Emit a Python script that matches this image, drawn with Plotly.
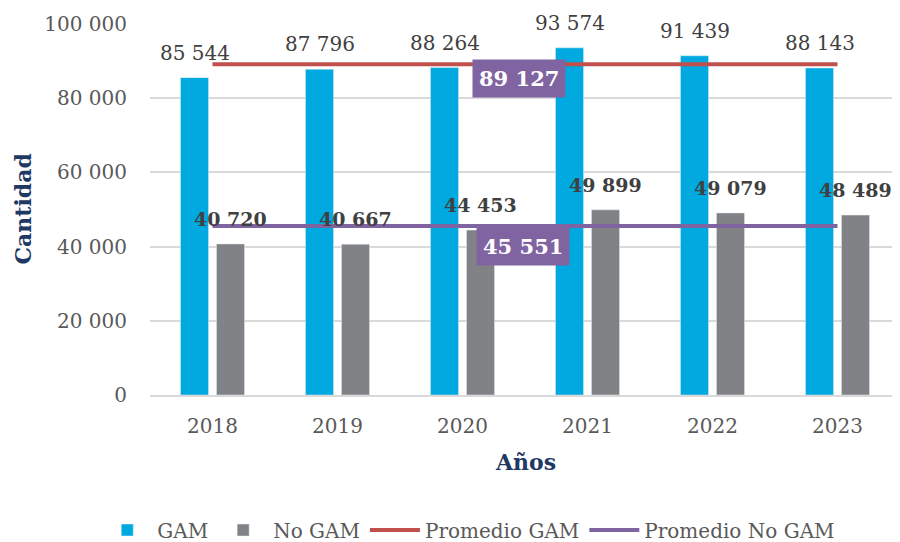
import plotly.graph_objects as go

# datos
anios = ["2018", "2019", "2020", "2021", "2022", "2023"]
gam = [85544, 87796, 88264, 93574, 91439, 88143]
no_gam = [40720, 40667, 44453, 49899, 49079, 48489]
promedio_gam = 89127
promedio_no_gam = 45551
y_ticks = [0, 20000, 40000, 60000, 80000, 100000]

AZUL = "#00A9E0"
GRIS = "#808285"
ROJO = "#C0504D"
MORADO = "#8064A2"
TEXTO = "#404040"
TITULO = "#1F3864"
FUENTE = "DejaVu Serif"


def fmt(v):
    return f"{v:,}".replace(",", " ")


fig = go.Figure()

fig.add_trace(go.Bar(x=anios, y=gam, name="GAM", marker_color=AZUL))
fig.add_trace(go.Bar(x=anios, y=no_gam, name="No GAM", marker_color=GRIS))
fig.add_trace(go.Scatter(x=anios, y=[promedio_gam] * len(anios), name="Promedio GAM",
                         mode="lines", line=dict(color=ROJO, width=4)))
fig.add_trace(go.Scatter(x=anios, y=[promedio_no_gam] * len(anios), name="Promedio No GAM",
                         mode="lines", line=dict(color=MORADO, width=4)))

# etiquetas de las barras (en eje de categorias la x es el indice)
for i, v in enumerate(gam):
    fig.add_annotation(x=i, y=v, text=fmt(v), showarrow=False, xshift=-18, yshift=25,
                       font=dict(family=FUENTE, size=20, color=TEXTO))
for i, v in enumerate(no_gam):
    fig.add_annotation(x=i, y=v, text="<b>" + fmt(v) + "</b>", showarrow=False, xshift=18,
                       yshift=25, font=dict(family=FUENTE, size=19, color=TEXTO))

# etiquetas de los promedios
fig.add_annotation(x=0.492, xref="paper", y=promedio_gam, text="<b>" + fmt(promedio_gam) + "</b>",
                   showarrow=False, yshift=-14, bgcolor=MORADO, borderpad=6,
                   font=dict(family=FUENTE, size=21, color="white"))
fig.add_annotation(x=0.497, xref="paper", y=promedio_no_gam, text="<b>" + fmt(promedio_no_gam) + "</b>",
                   showarrow=False, yshift=-20, bgcolor=MORADO, borderpad=6,
                   font=dict(family=FUENTE, size=21, color="white"))

# titulos de ejes
fig.add_annotation(x=0, xref="paper", y=0.5, yref="paper", text="<b>Cantidad</b>", textangle=-90,
                   showarrow=False, xanchor="center", yanchor="middle", xshift=-128,
                   font=dict(family=FUENTE, size=22, color=TITULO))
fig.add_annotation(x=0.5, xref="paper", y=0, yref="paper", text="<b>Años</b>",
                   showarrow=False, xanchor="center", yanchor="middle", yshift=-67,
                   font=dict(family=FUENTE, size=22, color=TITULO))

# la pagina deja 8 px de margen, por eso 892x534
fig.update_layout(
    width=892, height=534,
    margin=dict(l=142, r=0, t=16, b=147, autoexpand=False),
    plot_bgcolor="white", paper_bgcolor="white",
    barmode="group", bargap=0.424, bargroupgap=0.22,
    font=dict(family=FUENTE, size=20, color="#595959"),
    showlegend=True,
    legend=dict(orientation="h", x=0.425, xanchor="center", itemwidth=50,
                y=-0.364, yanchor="middle", font=dict(family=FUENTE, size=20, color="#595959")),
)
fig.update_xaxes(type="category", range=[-0.5, 5.5], showgrid=False, showline=True,
                 linecolor="#D9D9D9", linewidth=2, ticks="", ticklabelstandoff=12)
fig.update_yaxes(range=[0, 100000], tickvals=y_ticks, ticktext=[fmt(v) for v in y_ticks],
                 showgrid=True, gridcolor="#D9D9D9", gridwidth=1.5, zeroline=False,
                 ticks="", ticklabelstandoff=22)

fig.write_html("out.html")
